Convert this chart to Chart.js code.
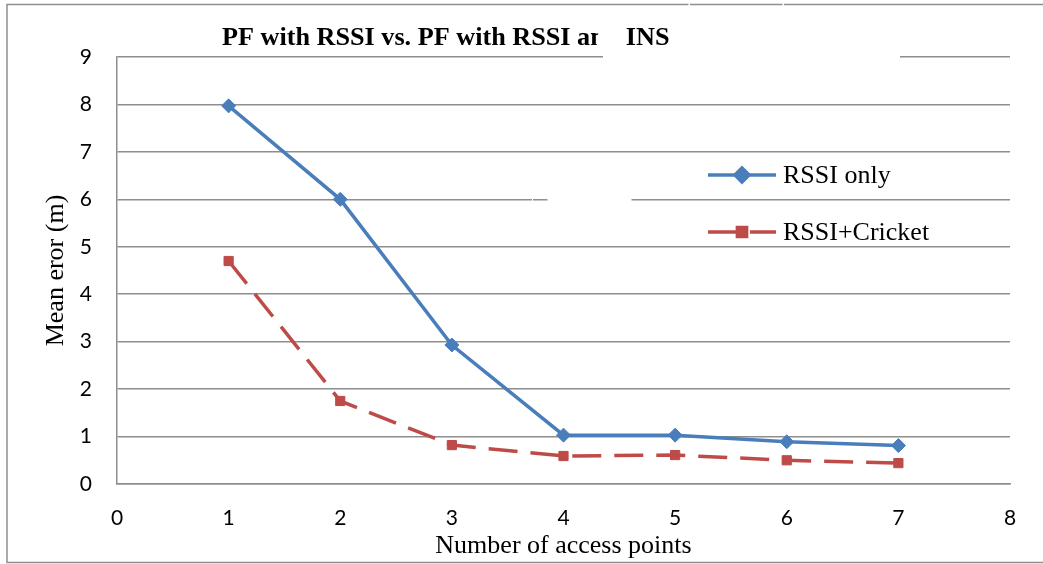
<!DOCTYPE html>
<html>
<head>
<meta charset="utf-8">
<title>PF with RSSI vs. PF with RSSI and INS</title>
<script src="https://cdn.jsdelivr.net/npm/chart.js@4.4.1/dist/chart.umd.min.js"></script>
<style>
  html, body { margin: 0; padding: 0; background: #ffffff; }
  canvas { display: block; }
</style>
</head>
<body>
<canvas id="chart" width="1043" height="564"></canvas>
<script>
// Number of access points on the x axis
const accessPoints = [1, 2, 3, 4, 5, 6, 7];
// Mean error in metres for each configuration
const rssiOnly = [7.97, 6.0, 2.93, 1.03, 1.03, 0.89, 0.81];
const rssiCricket = [4.70, 1.75, 0.82, 0.59, 0.61, 0.50, 0.44];
// Axis ranges and tick step
const xTicks = [0, 1, 2, 3, 4, 5, 6, 7, 8];
const yTicks = [0, 1, 2, 3, 4, 5, 6, 7, 8, 9];

const chartTitle = 'PF with RSSI vs. PF with RSSI and INS';
const seriesNames = ['RSSI only', 'RSSI+Cricket'];

const BLUE = '#4A7EBB';
const RED = '#BE4B48';
const GRID = '#8e8e8e';
const SERIF = '"Liberation Serif", "Times New Roman", serif';
const SANS = 'Lato, "Open Sans", sans-serif';

const toPoints = (ys) => accessPoints.map((x, i) => ({ x, y: ys[i] }));

// Title, outer frame, in-plot legend and the blank patches of the page
const decorations = {
  id: 'decorations',
  afterDraw(chart) {
    const ctx = chart.ctx;
    ctx.save();

    // outer frame
    ctx.strokeStyle = GRID;
    ctx.lineWidth = 1.5;
    ctx.beginPath();
    ctx.moveTo(1043, 4.5); ctx.lineTo(7, 4.5); ctx.lineTo(7, 562.5); ctx.lineTo(1043, 562.5);
    ctx.stroke();

    // title
    ctx.font = 'bold 26.2px ' + SERIF;
    ctx.fillStyle = '#000';
    ctx.textBaseline = 'alphabetic';
    ctx.textAlign = 'left';
    const tx = 222, ty = 45;
    ctx.fillText(chartTitle, tx, ty);

    // blank patches
    const headW = ctx.measureText('PF with RSSI vs. PF with RSSI a').width;
    const nW = ctx.measureText('n').width;
    const tailStart = ctx.measureText(chartTitle).width - ctx.measureText('INS').width;
    ctx.fillStyle = '#ffffff';
    const cut = tx + headW + nW * 0.55;
    ctx.fillRect(cut, 18, tx + tailStart - 2 - cut, 34);
    const yScale = chart.scales.y;
    const y9 = yScale.getPixelForValue(9);
    const y6 = yScale.getPixelForValue(6);
    ctx.fillRect(603, y9 - 3, 297, 6);
    ctx.fillRect(532, y6 - 3, 1, 6);
    ctx.fillRect(547.5, y6 - 3, 84, 6);
    ctx.fillRect(688.5, 2, 1.5, 5);
    ctx.fillRect(782.5, 2, 1.5, 5);

    // legend
    const items = chart.data.datasets;
    const rows = [175, 232];
    items.forEach((ds, i) => {
      const y = rows[i];
      ctx.strokeStyle = ds.borderColor;
      ctx.lineWidth = ds.borderWidth;
      ctx.setLineDash(ds.borderDash || []);
      ctx.beginPath();
      ctx.moveTo(708, y);
      ctx.lineTo(776, y);
      ctx.stroke();
      ctx.setLineDash([]);
      Chart.helpers.drawPoint(ctx, {
        pointStyle: ds.pointStyle,
        radius: ds.pointRadius,
        borderWidth: 1,
        rotation: 0
      }, 742, y);
      ctx.fillStyle = ds.pointBackgroundColor;
      ctx.strokeStyle = ds.pointBorderColor;
      ctx.fill();
      ctx.fillStyle = '#000';
      ctx.font = '26px ' + SERIF;
      ctx.textBaseline = 'middle';
      ctx.fillText(ds.label, 783, y + 1);
    });

    ctx.restore();
  }
};

new Chart(document.getElementById('chart'), {
  type: 'line',
  data: {
    datasets: [
      {
        label: seriesNames[0],
        data: toPoints(rssiOnly),
        borderColor: BLUE,
        backgroundColor: BLUE,
        pointBackgroundColor: BLUE,
        pointBorderColor: BLUE,
        borderWidth: 3.5,
        pointStyle: 'rectRot',
        pointRadius: 7,
        pointBorderWidth: 1,
        tension: 0
      },
      {
        label: seriesNames[1],
        data: toPoints(rssiCricket),
        borderColor: RED,
        backgroundColor: RED,
        pointBackgroundColor: RED,
        pointBorderColor: RED,
        borderWidth: 3.5,
        borderDash: [29, 13],
        pointStyle: 'rect',
        pointRadius: 6.5,
        pointBorderWidth: 1,
        tension: 0
      }
    ]
  },
  options: {
    responsive: false,
    animation: false,
    devicePixelRatio: 1,
    layout: { padding: { top: 57, right: 33, bottom: 0, left: 0 } },
    plugins: {
      legend: { display: false },
      title: { display: false },
      tooltip: { enabled: false }
    },
    scales: {
      x: {
        type: 'linear',
        min: xTicks[0],
        max: xTicks[xTicks.length - 1],
        afterFit: (s) => { s.height = 80; },
        afterBuildTicks: (s) => { s.ticks = xTicks.map(v => ({ value: v })); },
        grid: { display: false, drawTicks: false },
        border: { display: true, color: GRID, width: 1.5 },
        ticks: {
          color: '#000',
          font: { family: SANS, size: 21 },
          padding: 22,
          maxRotation: 0
        },
        title: {
          display: true,
          text: 'Number of access points',
          color: '#000',
          font: { family: SERIF, size: 26 },
          padding: { top: 0, bottom: 2 }
        }
      },
      y: {
        type: 'linear',
        min: yTicks[0],
        max: yTicks[yTicks.length - 1],
        afterFit: (s) => { s.width = 117; },
        afterBuildTicks: (s) => { s.ticks = yTicks.map(v => ({ value: v })); },
        grid: { color: GRID, lineWidth: 1.5, drawTicks: false },
        border: { display: true, color: GRID, width: 1.5 },
        ticks: {
          color: '#000',
          font: { family: SANS, size: 21 },
          padding: 25
        },
        title: {
          display: true,
          text: 'Mean eror (m)',
          color: '#000',
          font: { family: SERIF, size: 26 },
          padding: { top: 41, bottom: 0 }
        }
      }
    }
  },
  plugins: [decorations]
});
</script>
</body>
</html>
